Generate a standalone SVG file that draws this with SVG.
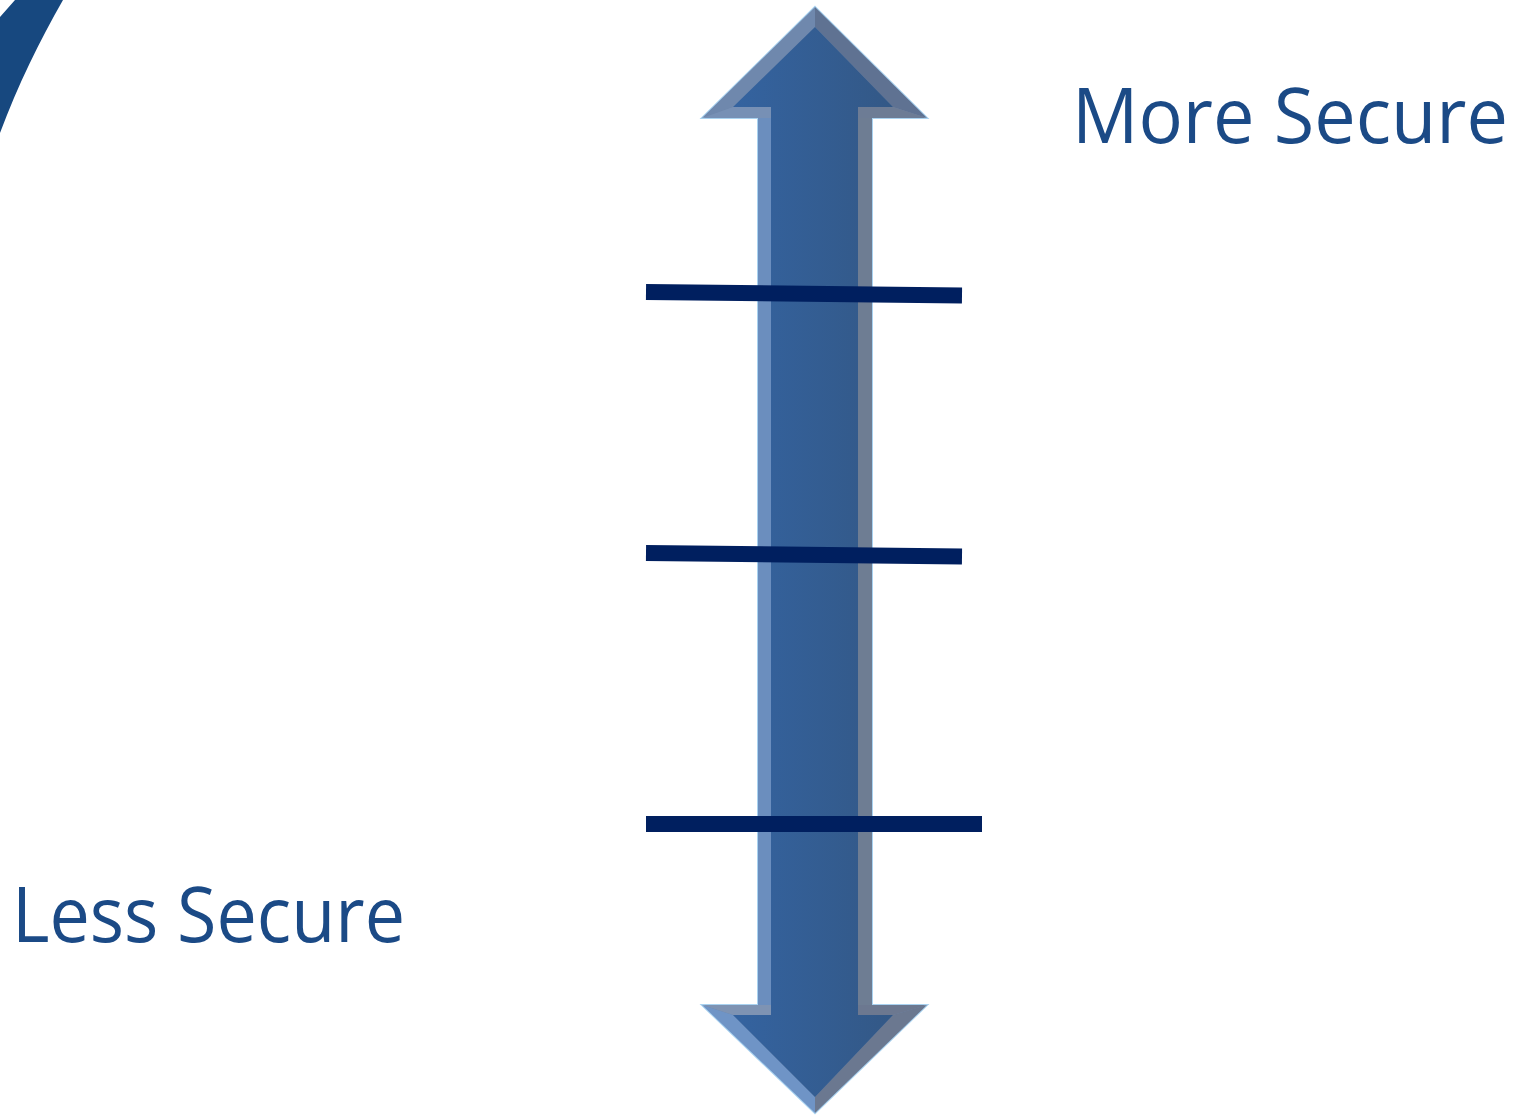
<svg xmlns="http://www.w3.org/2000/svg" width="1518" height="1116" viewBox="0 0 1518 1116">
<defs>
<linearGradient id="body" x1="0" y1="0" x2="1" y2="0">
<stop offset="0" stop-color="#3463A0"/>
<stop offset="1" stop-color="#335886"/>
</linearGradient>
<style>
.lbl{font-family:"Open Sans","Liberation Sans",sans-serif;font-size:76px;fill:#1B4A86}
.tick{stroke:#001F5F;stroke-width:16;fill:none}
</style>
</defs>
<rect width="1518" height="1116" fill="#ffffff"/>
<path d="M15,0 L63,0 C40,40 18,85 0,133 L0,17 Z" fill="#17487F"/>
<g id="arrow">
<polygon points="815,7 927,118 872,118 872,1005 927,1005 815,1113 702,1005 758,1005 758,118 702,118" fill="#6E86A8" stroke="#A9D2F0" stroke-width="2"/>
<polygon points="815,7 815,27 733,107 702,118" fill="#6F88AD"/>
<polygon points="815,7 927,118 893,107 815,27" fill="#5F7292"/>
<polygon points="702,118 733,107 771,107 771,118" fill="#7790B5"/>
<polygon points="858,107 893,107 927,118 858,118" fill="#6D7C95"/>
<rect x="758" y="118" width="13" height="887" fill="#6B8EBE"/>
<rect x="858" y="118" width="14" height="887" fill="#6E7D93"/>
<polygon points="702,1005 771,1005 771,1015 733,1015" fill="#7E93B3"/>
<polygon points="702,1005 733,1015 815,1097 815,1113" fill="#6F94C6"/>
<polygon points="815,1113 815,1097 893,1015 927,1005" fill="#6B7890"/>
<polygon points="858,1005 927,1005 893,1015 858,1015" fill="#6C7890"/>
<polygon points="815,27 893,107 858,107 858,1015 893,1015 815,1097 733,1015 771,1015 771,107 733,107" fill="url(#body)"/>
</g>
<g id="ticks">
<line class="tick" x1="646" y1="292" x2="962" y2="295.5"/>
<line class="tick" x1="646" y1="553" x2="962" y2="556.5"/>
<line class="tick" x1="646" y1="824" x2="982" y2="824"/>
</g>
<g id="more"><text class="lbl" x="1072" y="143" textLength="436" lengthAdjust="spacingAndGlyphs">More Secure</text></g>
<g id="less"><text class="lbl" x="12" y="942" textLength="393" lengthAdjust="spacingAndGlyphs">Less Secure</text></g>
</svg>
